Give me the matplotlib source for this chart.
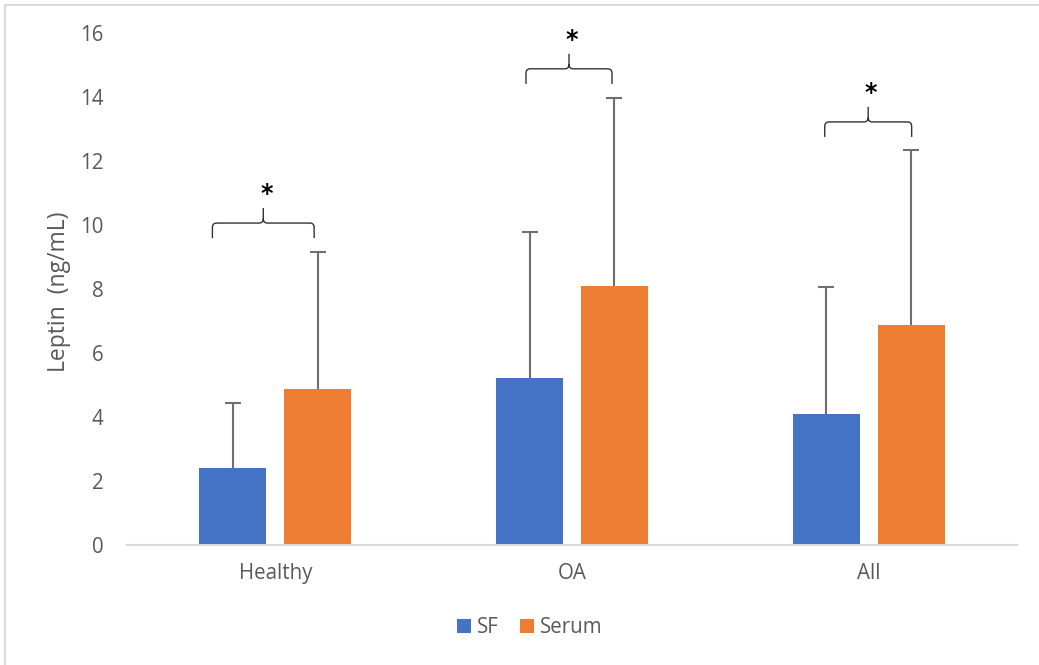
import numpy as np
import matplotlib
matplotlib.use("Agg")
import matplotlib.pyplot as plt
from matplotlib.path import Path
from matplotlib.patches import PathPatch
from matplotlib.lines import Line2D

categories = ["Healthy", "OA", "All"]
sf_mean = [2.42, 5.22, 4.09]
sf_sd = [2.02, 4.56, 3.97]
serum_mean = [4.88, 8.09, 6.86]
serum_sd = [4.28, 5.88, 5.48]

# significance braces: left / right offset from group centre, height of the brace
brace_left = [-0.212, -0.155, -0.148]
brace_right = [0.131, 0.135, 0.145]
brace_y = [10.06, 14.88, 13.22]

BLUE = "#4472C4"
ORANGE = "#ED7D31"
GREY = "#595959"

plt.rcParams["font.family"] = ["Open Sans", "DejaVu Sans"]

fig = plt.figure(figsize=(10.39, 6.65), dpi=100)
ax = fig.add_axes([0.1222, 0.1805, 0.8566, 0.7699])

x = np.arange(len(categories))
w = 0.226
off = 0.143
err_kw = dict(ecolor="#6F6F6F", elinewidth=1.5, capsize=6, capthick=1.5)
b1 = ax.bar(x - off, sf_mean, w, color=BLUE, label="SF",
            yerr=[np.zeros(3), sf_sd], error_kw=err_kw, zorder=2)
b2 = ax.bar(x + off, serum_mean, w, color=ORANGE, label="Serum",
            yerr=[np.zeros(3), serum_sd], error_kw=err_kw, zorder=2)
# only the upper whisker is shown
for b in (b1, b2):
    b.errorbar.lines[1][0].set_visible(False)


def brace(x0, x1, y, drop=0.47, tip=0.47, rx=0.014, ry=0.14):
    xm = (x0 + x1) / 2
    verts = [
        (x0, y - drop), (x0, y - ry), (x0, y), (x0 + rx, y),
        (xm - rx, y), (xm, y), (xm, y + ry), (xm, y + tip),
        (xm, y + ry), (xm, y), (xm + rx, y),
        (x1 - rx, y), (x1, y), (x1, y - ry), (x1, y - drop),
    ]
    codes = [Path.MOVETO, Path.LINETO, Path.CURVE3, Path.CURVE3,
             Path.LINETO, Path.CURVE3, Path.CURVE3, Path.LINETO,
             Path.MOVETO, Path.CURVE3, Path.CURVE3,
             Path.LINETO, Path.CURVE3, Path.CURVE3, Path.LINETO]
    ax.add_patch(PathPatch(Path(verts, codes), fill=False,
                           edgecolor="#333333", linewidth=1.0, zorder=3))
    ax.text(xm + 0.01, y + tip + 0.05, "*", ha="center", va="bottom",
            fontsize=17, fontweight="bold", color="black", family="DejaVu Sans")


for i in range(len(categories)):
    brace(i + brace_left[i], i + brace_right[i], brace_y[i])

ax.set_xlim(-0.5, 2.5)
ax.set_ylim(0, 16)
ax.set_yticks(range(0, 17, 2))
ax.set_xticks(x)
ax.set_xticklabels(categories)
ax.tick_params(axis="both", length=0, colors=GREY, labelsize=14.8)
ax.tick_params(axis="y", pad=17)
ax.tick_params(axis="x", pad=13)
for s in ["top", "right", "left"]:
    ax.spines[s].set_visible(False)
ax.spines["bottom"].set_color("#D9D9D9")
ax.spines["bottom"].set_linewidth(1.5)
fig.text(0.057, 0.562, "Leptin  (ng/mL)", rotation=90, ha="center", va="center",
         fontsize=16.5, color=GREY)

fig.legend(loc="center", bbox_to_anchor=(0.51, 0.056), ncol=2, frameon=False,
           fontsize=14.8, handlelength=0.7, handleheight=0.7,
           handletextpad=0.3, columnspacing=1.0, labelcolor=GREY)

# thin frame along the top and left edges of the chart area
fig.add_artist(Line2D([0.005, 0.005], [0, 0.992], color="#D9D9D9", lw=1.5))
fig.add_artist(Line2D([0.005, 1.0], [0.992, 0.992], color="#D9D9D9", lw=1.5))

fig.savefig("out.png", dpi=100)
